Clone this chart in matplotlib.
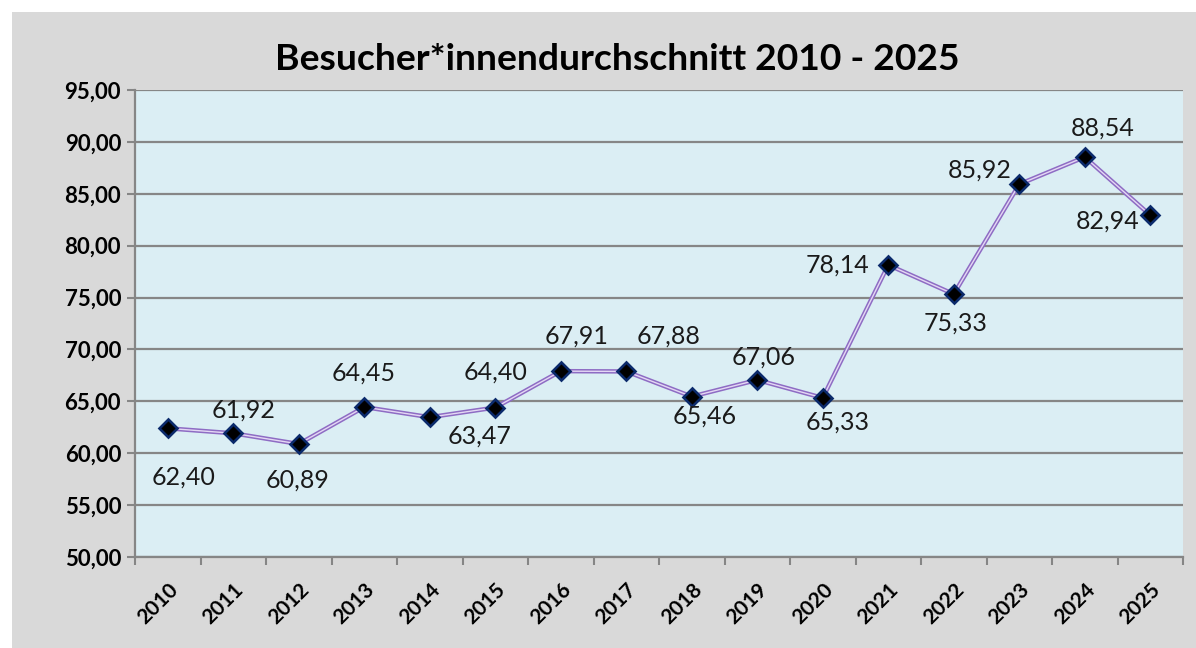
import matplotlib
matplotlib.use('Agg')
import matplotlib.pyplot as plt
from matplotlib.patches import Rectangle
import numpy as np

years = ['2010', '2011', '2012', '2013', '2014', '2015', '2016', '2017',
         '2018', '2019', '2020', '2021', '2022', '2023', '2024', '2025']
values = [62.40, 61.92, 60.89, 64.45, 63.47, 64.40, 67.91, 67.88,
          65.46, 67.06, 65.33, 78.14, 75.33, 85.92, 88.54, 82.94]
# label offsets in pixels (dx, dy) relative to the point
offsets = [(16, -49), (10, 23), (-1, -36), (-1, 34), (50, -19), (0, 35),
           (16, 35), (42, 35), (13, -20), (6, 23), (15, -24), (-51, 0),
           (2, -29), (-40, 14), (18, 29), (-43, -6)]

plt.rcParams['font.family'] = ['Lato', 'DejaVu Sans']

fig = plt.figure(figsize=(11.96, 6.48), dpi=100)
fig.patch.set_facecolor('white')
fig.patches.append(Rectangle((12 / 1196, 0), 1 - 12 / 1196, 1 - 12 / 648,
                             transform=fig.transFigure, facecolor='#d9d9d9',
                             edgecolor='none', zorder=-10))

ax = fig.add_axes([135 / 1196, 1 - 557 / 648, 1048 / 1196, 467 / 648])
ax.set_facecolor('#dbeef4')

x = np.arange(len(years))
ax.plot(x, values, color='#8e6cc4', lw=3.2, zorder=3)
ax.plot(x, values, color='#e4d8f4', lw=1.0, zorder=3)
ax.plot(x, values, ls='none', marker='D', ms=9.5, mfc='black',
        mec='#0b2a6b', mew=1.9, zorder=4)

for xi, v, (dx, dy) in zip(x, values, offsets):
    ax.annotate(f'{v:.2f}'.replace('.', ','), (xi, v), xytext=(dx, dy),
                textcoords='offset pixels', ha='center', va='center',
                fontsize=18, color='#1a1a1a', zorder=5)

ax.set_xlim(-0.5, len(years) - 0.5)
ax.set_ylim(50, 95)
ax.set_yticks(np.arange(50, 96, 5))
ax.set_yticklabels([f'{t:.2f}'.replace('.', ',') for t in np.arange(50, 96, 5)],
                   fontsize=16, fontweight='bold')
ax.set_xticks(x)
ax.set_xticklabels(years, rotation=45, ha='right', rotation_mode='anchor',
                   fontsize=15, fontweight='bold')
ax.set_xticks(np.arange(-0.5, len(years)), minor=True)
ax.tick_params(axis='x', which='major', length=0, pad=16)
ax.tick_params(axis='x', which='minor', length=6, width=1.5, color='#868686')
ax.tick_params(axis='y', length=6, width=1.5, color='#868686', pad=4)
ax.grid(axis='y', color='#868686', lw=1.6, zorder=1)
ax.set_axisbelow(True)
for s in ['top', 'right']:
    ax.spines[s].set_visible(False)
for s in ['left', 'bottom']:
    ax.spines[s].set_color('#868686')
    ax.spines[s].set_linewidth(1.6)

fig.text(617 / 1196, 1 - 60 / 648, 'Besucher*innendurchschnitt 2010 - 2025',
         ha='center', va='center', fontsize=26.8, fontweight='bold')

fig.savefig('out.png', dpi=100)
